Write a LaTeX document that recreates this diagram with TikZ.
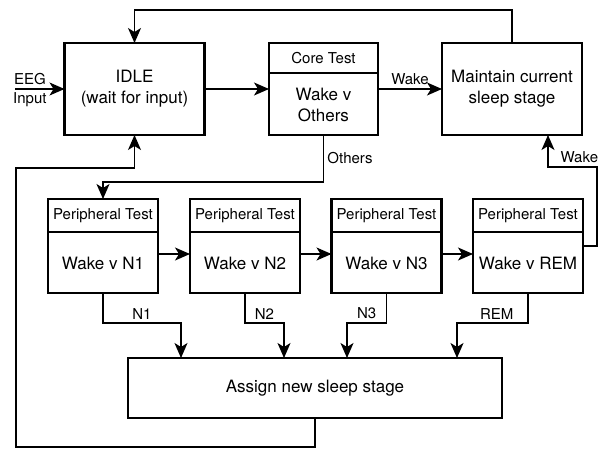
\documentclass[tikz,border=0pt]{standalone}
\usepackage{fontspec}
\setmainfont{TeX Gyre Heros}
\usepackage{tikz}
\usetikzlibrary{arrows.meta}
\usetikzlibrary{positioning}
\tikzstyle{tran}  = [
    draw,
    line width=1.3pt,
    -{Stealth[length=15pt,width=13pt,inset=4pt]}
]
\tikzstyle{block} = [
    draw,
    line width=2.8pt,
    inner sep=0pt,
    outer sep=0pt,
    align=center
]
\tikzstyle{head}  = [
    draw,
    line width=1.6pt,
    anchor=north,
    inner sep=0pt,
    outer sep=0pt,
    font=\smalltxt
]
\tikzstyle{lbl}   = [font=\smalltxt]
\newcommand{\bigtxt}{\fontsize{17}{21}\selectfont}
\newcommand{\smalltxt}{\fontsize{15}{18}\selectfont}

\begin{document}
\begin{tikzpicture}[x=1pt, y=-1pt, font=\bigtxt]
\useasboundingbox (0,0) rectangle (611,451);

\node[block, minimum width=140, minimum height=92] (idle) at (134.5,89) {IDLE\\(wait for input)};
\node[block, minimum width=109, minimum height=92] (core) at (323.5,89) {};
\node[head, minimum width=109, minimum height=30]  (coreh) at (core.north) {Core Test};
\node[align=center] (coret) at (323.5,105) {Wake v\\Others};
\node[block, minimum width=140, minimum height=92] (keep) at (512,89) {Maintain current\\sleep stage};

\node[block, minimum width=110, minimum height=94] (p1) at (103,246) {};
\node[head, minimum width=110, minimum height=33]  (p1h) at (p1.north) {Peripheral Test};
\node (p1t) at (103,263) {Wake v N1};
\node[block, minimum width=110, minimum height=94] (p2) at (245,246) {};
\node[head, minimum width=110, minimum height=33]  (p2h) at (p2.north) {Peripheral Test};
\node (p2t) at (245,263) {Wake v N2};
\node[block, minimum width=110, minimum height=94] (p3) at (386.5,246) {};
\node[head, minimum width=110, minimum height=33]  (p3h) at (p3.north) {Peripheral Test};
\node (p3t) at (386.5,263) {Wake v N3};
\node[block, minimum width=110, minimum height=94] (p4) at (528,246) {};
\node[head, minimum width=110, minimum height=33]  (p4h) at (p4.north) {Peripheral Test};
\node (p4t) at (528,263) {Wake v REM};

\node[block, minimum width=374, minimum height=60] (assign) at (315,388) {Assign new sleep stage};

\coordinate (eeg) at (15,89);

\draw[tran] (eeg) to node[pos=0.3, above, lbl] {EEG} node[pos=0.3, below, lbl] {Input} (idle.west);
\draw[tran] (idle) to (core);
\draw[tran] (core) to node[above, lbl] {Wake} (keep);
\draw[tran] (keep.north) -- ++(0,-33) -| (idle.north);
\draw[tran] (assign.south) -- ++(0,29) -| (16,168) -| (idle.south);
\draw[tran] (core.south) -- node[right, lbl] {Others} ++(0,47) -| (p1.north);

\draw[tran] ([yshift=-8pt]p1.east) to ([yshift=-8pt]p2.west);
\draw[tran] ([yshift=-8pt]p2.east) to ([yshift=-8pt]p3.west);
\draw[tran] ([yshift=-8pt]p3.east) to ([yshift=-8pt]p4.west);
\draw[tran] (p4.east) -| ++(14,-79) -| node[pos=0.18, above, lbl] {Wake} ([xshift=36pt]keep.south);

\draw[tran] (p1.south) -- ++(0,30) -| node[pos=0.25, above, lbl] {N1}  ([xshift=-134pt]assign.north);
\draw[tran] (p2.south) -- ++(0,30) -| node[pos=0.25, above, lbl] {N2}  ([xshift=-31pt]assign.north);
\draw[tran] (p3.south) -- ++(0,30) -| node[pos=0.25, above, lbl] {N3}  ([xshift=32pt]assign.north);
\draw[tran] (p4.south) -- ++(0,30) -| node[pos=0.22, above, lbl] {REM} ([xshift=142pt]assign.north);

\end{tikzpicture}
\end{document}
